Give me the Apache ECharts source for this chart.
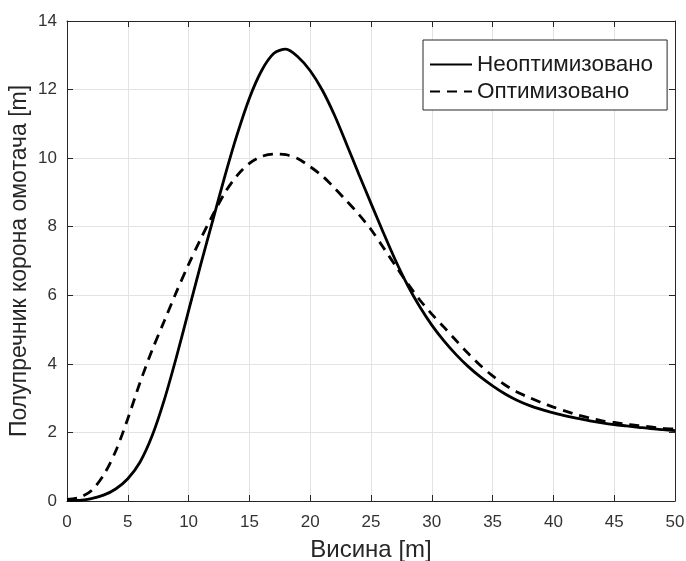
<!DOCTYPE html>
<html>
<head>
<meta charset="utf-8">
<script src="https://cdn.jsdelivr.net/npm/echarts@6/dist/echarts.min.js"></script>
<style>html,body{margin:0;padding:0;background:#fff}#c{width:686px;height:561px}</style>
</head>
<body>
<div id="c"></div>
<script>
const heights = [0,1,2,3,4,5,6,7,8,9,10,11,12,13,14,15,16,17,18,19,20,21,22,23,24,25,26,27,28,29,30,31,32,33,34,35,36,37,38,39,40,41,42,43,44,45,46,47,48,49,50];
const unoptimized = [0.02,0.02,0.07,0.17,0.35,0.65,1.13,1.9,2.95,4.2,5.55,6.9,8.2,9.5,10.7,11.75,12.55,13.05,13.18,12.95,12.55,11.98,11.25,10.4,9.53,8.68,7.84,7.03,6.3,5.67,5.13,4.67,4.27,3.92,3.62,3.36,3.13,2.94,2.79,2.67,2.57,2.48,2.41,2.34,2.28,2.23,2.19,2.15,2.11,2.08,2.05];
const optimized = [0.05,0.1,0.3,0.75,1.45,2.4,3.45,4.4,5.25,6.1,6.9,7.65,8.35,9.0,9.5,9.85,10.05,10.12,10.1,9.98,9.75,9.48,9.13,8.75,8.36,7.92,7.4,6.87,6.35,5.87,5.45,5.07,4.68,4.3,3.95,3.65,3.39,3.18,3.02,2.87,2.74,2.62,2.51,2.42,2.34,2.29,2.24,2.2,2.16,2.12,2.1];
const seriesNames = ['Неоптимизовано', 'Оптимизовано'];
const xName = 'Висина [m]';
const yName = 'Полупречник корона омотача [m]';

const font = "'Liberation Sans', Arial, Helvetica, sans-serif";
const axisColor = '#262626';
const gridColor = '#e3e3e3';

const chart = echarts.init(document.getElementById('c'), null, {renderer: 'canvas'});
const baseX = {
  type: 'value', min: 0, max: 50, interval: 5,
  axisLine: {show: true, onZero: false, lineStyle: {color: axisColor, width: 1}},
  axisTick: {show: true, inside: true, length: 6, lineStyle: {color: axisColor}},
};
const baseY = {
  type: 'value', min: 0, max: 14, interval: 2,
  axisLine: {show: true, onZero: false, lineStyle: {color: axisColor, width: 1}},
  axisTick: {show: true, inside: true, length: 6, lineStyle: {color: axisColor}},
};
chart.setOption({
  animation: false,
  backgroundColor: '#fff',
  grid: {left: 67, right: 11, top: 21, bottom: 60, containLabel: false, outerBoundsMode: 'none'},
  legend: {
    orient: 'vertical', left: 423, top: 40,
    data: seriesNames,
    backgroundColor: '#fff', borderColor: axisColor, borderWidth: 1, borderRadius: 0,
    padding: [13, 14, 7, 6],
    itemWidth: 42, itemHeight: 20, itemGap: 4,
    itemStyle: {opacity: 0},
    textStyle: {fontFamily: font, fontSize: 22.5, lineHeight: 20, color: '#1a1a1a'}
  },
  xAxis: [
    Object.assign({}, baseX, {
      position: 'bottom',
      name: xName, nameLocation: 'middle', nameGap: 37, nameMoveOverlap: false,
      nameTextStyle: {fontFamily: font, fontSize: 24, color: '#262626'},
      axisLabel: {fontFamily: font, fontSize: 17, color: '#333', margin: 13},
      splitLine: {show: true, lineStyle: {color: gridColor, width: 1}}
    }),
    Object.assign({}, baseX, {
      position: 'top', axisLabel: {show: false}, splitLine: {show: false}
    })
  ],
  yAxis: [
    Object.assign({}, baseY, {
      position: 'left',
      name: yName, nameLocation: 'middle', nameGap: 36, nameMoveOverlap: false,
      nameTextStyle: {fontFamily: font, fontSize: 23, color: '#262626'},
      axisLabel: {fontFamily: font, fontSize: 17, color: '#333', margin: 10},
      splitLine: {show: true, lineStyle: {color: gridColor, width: 1}}
    }),
    Object.assign({}, baseY, {
      position: 'right', axisLabel: {show: false}, splitLine: {show: false}
    })
  ],
  series: [
    {
      name: seriesNames[0], type: 'line', xAxisIndex: 0, yAxisIndex: 0,
      data: heights.map((h, i) => [h, unoptimized[i]]),
      showSymbol: false, symbol: 'none', smooth: 0.3,
      lineStyle: {color: '#000', width: 2.8, type: 'solid'},
      itemStyle: {color: '#000'}
    },
    {
      name: seriesNames[1], type: 'line', xAxisIndex: 0, yAxisIndex: 0,
      data: heights.map((h, i) => [h, optimized[i]]),
      showSymbol: false, symbol: 'none', smooth: 0.3,
      lineStyle: {color: '#000', width: 2.8, type: [10, 7]},
      itemStyle: {color: '#000'}
    }
  ]
});
</script>
</body>
</html>
